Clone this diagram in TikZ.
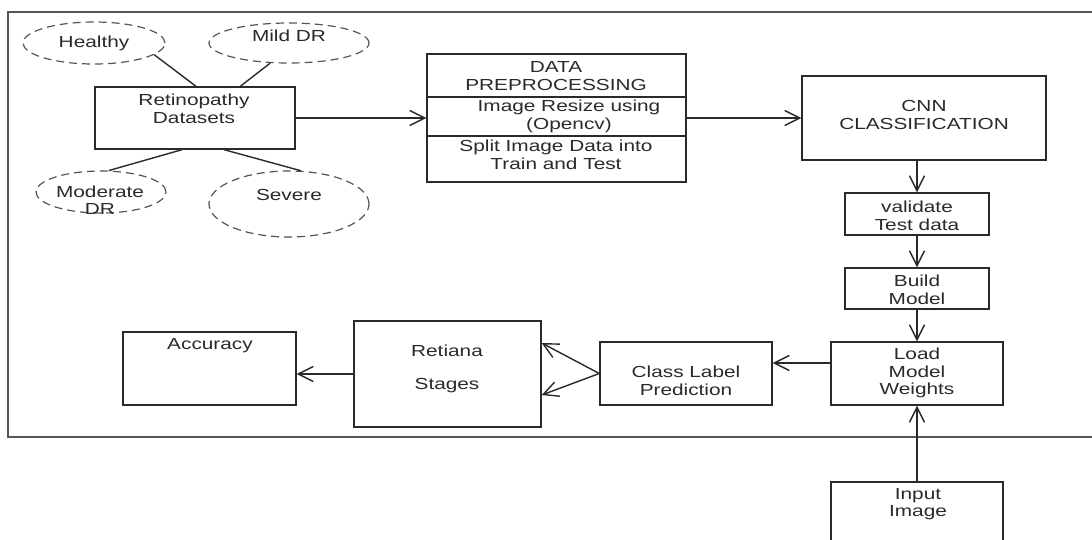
\documentclass[tikz,border=0pt]{standalone}
\usepackage{fontspec}
\setmainfont{Liberation Sans}[FakeStretch=1.3]
\usetikzlibrary{arrows.meta,shapes.geometric,calc}
\definecolor{ink}{HTML}{2A2A2A}
\definecolor{framec}{HTML}{555555}
\begin{document}
\begin{tikzpicture}[x=1pt,y=-1pt,
  font=\fontsize{16}{17.5}\selectfont,
  box/.style={draw=ink,line width=1.4pt,rectangle,inner sep=0pt},
  oval/.style={draw=framec,line width=1.2pt,ellipse,inner sep=0pt,dash pattern=on 8pt off 5pt},
  txt/.style={text=ink,align=center,inner sep=0pt},
  arr/.style={draw=ink,line width=1.4pt,-{Straight Barb[length=15pt,width=15pt,line width=1.4pt]}},
  conn/.style={draw=ink,line width=1.4pt},
  frame/.style={draw=framec,line width=1.6pt}]
\useasboundingbox (0,0) rectangle (1092,539);
\fill[white] (0,0) rectangle (1092,539);
% outer frame
\draw[frame] (1100,12) -- (8,12) -- (8,437) -- (1100,437);

% ellipses
\node[oval,minimum width=142pt,minimum height=42pt] (healthy) at (94,43) {};
\node[oval,minimum width=160pt,minimum height=40pt] (mild) at (289,43) {};
\node[oval,minimum width=130pt,minimum height=42pt] (moderate) at (101,192) {};
\node[oval,minimum width=160pt,minimum height=66pt] (severe) at (289,204) {};
\node[txt] (t-healthy) at (94,43) {Healthy};
\node[txt] (t-mild) at (289,36) {Mild DR};
\node[txt] (t-moderate) at (100,200) {Moderate\\DR};
\node[txt] (t-severe) at (289,195) {Severe};

% boxes
\node[box,minimum width=200pt,minimum height=62pt] (ret) at (195,118) {};
\node[box,minimum width=259pt,minimum height=128pt] (dp) at (556.5,118) {};
\node[box,minimum width=244pt,minimum height=84pt] (cnn) at (924,118) {};
\node[box,minimum width=144pt,minimum height=42pt] (val) at (917,214) {};
\node[box,minimum width=144pt,minimum height=41pt] (build) at (917,288.5) {};
\node[box,minimum width=172pt,minimum height=63pt] (load) at (917,373.5) {};
\node[box,minimum width=172pt,minimum height=63pt] (cls) at (686,373.5) {};
\node[box,minimum width=187pt,minimum height=106pt] (stages) at (447.5,374) {};
\node[box,minimum width=173pt,minimum height=73pt] (acc) at (209.5,368.5) {};
\node[box,minimum width=172pt,minimum height=78pt] (inp) at (917,521) {};

% dividers of preprocessing box
\coordinate (d1) at (0,97);
\coordinate (d2) at (0,136);
\draw[conn] (dp.west |- d1) -- (dp.east |- d1);
\draw[conn] (dp.west |- d2) -- (dp.east |- d2);

% texts
\node[txt] (t-ret) at (194,109) {Retinopathy\\Datasets};
\node[txt] (t-dp1) at (556,76) {DATA\\PREPROCESSING};
\node[txt] (t-dp2) at (569,116.5) {Image Resize using\\(Opencv)};
\node[txt] (t-dp3) at (556,155) {Split Image Data into\\Train and Test};
\node[txt] (t-cnn) at (924,115) {CNN\\CLASSIFICATION};
\node[txt] (t-val) at (917,216) {validate\\Test data};
\node[txt] (t-build) at (917,290) {Build\\Model};
\node[txt] (t-load) at (917,373) {Load\\Model\\Weights};
\node[txt] (t-cls) at (686,381) {Class Label\\Prediction};
\node[txt] (t-stages) at (447,369) {Retiana\\[16pt]Stages};
\node[txt] (t-acc) at (210,346) {Accuracy};
\node[txt] (t-inp) at (918,504) {Input\\Image};

% ellipse connectors
\coordinate (r1) at ($(ret.north west)!0.505!(ret.north east)$);
\coordinate (r2) at ($(ret.north west)!0.725!(ret.north east)$);
\coordinate (r3) at ($(ret.south west)!0.435!(ret.south east)$);
\coordinate (r4) at ($(ret.south west)!0.645!(ret.south east)$);
\draw[conn] (healthy.-11.5) -- (r1);
\draw[conn] (mild.-133.7) -- (r2);
\draw[conn] (moderate.70.7) -- (r3);
\draw[conn] (severe.70.5) -- (r4);

% arrows
\draw[arr] (ret.east) -- (dp.west);
\draw[arr] (dp.east) -- (cnn.west);
\draw[arr] (cnn.south -| val.north) -- (val.north);
\draw[arr] (val.south) -- (build.north);
\draw[arr] (build.south) -- (load.north);
\draw[arr] ([yshift=10.5pt]load.west) -- ([yshift=10.5pt]cls.east);
\draw[arr] (cls.west) -- ([yshift=31pt]stages.east);
\draw[arr] (cls.west) -- ([yshift=-21pt]stages.east);
\draw[arr] (stages.west) -- (acc.east |- stages.west);
\draw[arr] (inp.north) -- (load.south);
\end{tikzpicture}
\end{document}
